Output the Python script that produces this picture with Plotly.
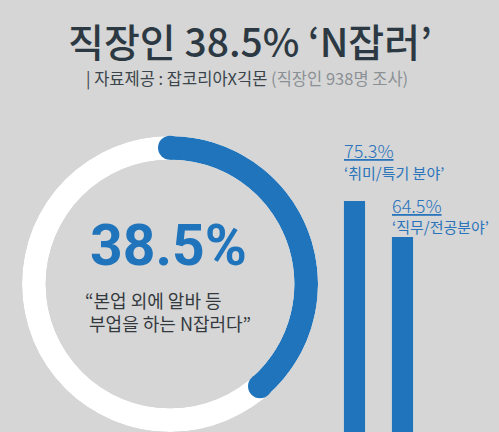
import plotly.graph_objects as go

# ---- data ----
share_label = "38.5%"
share_value = 38.5
bar_categories = ["취미/특기 분야", "직무/전공분야"]
bar_values = [75.3, 64.5]
bar_value_labels = ["75.3%", "64.5%"]

BLUE = "#1f74bb"
BG = "#d6d6d6"
FONT = "Noto Sans CJK KR"
W, H = 499, 432

fig = go.Figure()

# donut (polar subplot): white track + blue arc + round caps
share_deg = share_value / 100 * 360
fig.add_trace(go.Barpolar(
    r=[1], theta=[180], width=[360], base=0,
    marker=dict(color="#ffffff", line=dict(width=0)),
    hoverinfo="skip", showlegend=False, subplot="polar",
))
fig.add_trace(go.Barpolar(
    r=[1], theta=[share_deg / 2], width=[share_deg], base=0,
    marker=dict(color=BLUE, line=dict(width=0)),
    hoverinfo="skip", showlegend=False, subplot="polar",
))
fig.add_trace(go.Scatterpolar(
    r=[0.5, 0.5], theta=[0, share_deg], mode="markers",
    marker=dict(size=24, color=BLUE, line=dict(width=0)),
    hoverinfo="skip", showlegend=False, subplot="polar",
))

# bars
fig.add_trace(go.Bar(
    x=bar_categories, y=bar_values,
    marker=dict(color=BLUE, line=dict(width=0)),
    width=0.44, hoverinfo="skip", showlegend=False,
))

fig.update_layout(
    width=W, height=H,
    margin=dict(l=0, r=0, t=0, b=0),
    paper_bgcolor=BG, plot_bgcolor="rgba(0,0,0,0)",
    xaxis=dict(domain=[330.5 / W, 426.5 / W], range=[-0.5, 1.5],
               visible=False, fixedrange=True),
    yaxis=dict(domain=[0, 1], range=[6.0, 135.6], visible=False, fixedrange=True),
    polar=dict(
        domain=dict(x=[22 / W, 318 / W], y=[0.0, 296 / H]),
        hole=0.84, bgcolor="rgba(0,0,0,0)", bargap=0,
        radialaxis=dict(range=[0, 1], visible=False, showgrid=False),
        angularaxis=dict(rotation=90, direction="clockwise", visible=False,
                         showgrid=False, showline=False, ticks=""),
    ),
    font=dict(family=FONT),
)

ann = []
# title
ann.append(dict(text="직장인 38.5% ‘N잡러’", x=0.5, y=1 - 40 / H, xref="paper", yref="paper",
                xanchor="center", yanchor="middle", showarrow=False,
                font=dict(family=FONT, size=39, color="#2c3943", weight=500)))
ann.append(dict(text="<span style='color:#3b444a'>| 자료제공 : 잡코리아X긱몬</span> "
                     "<span style='color:#8b9095'>(직장인 938명 조사)</span>",
                x=246.5 / W, y=1 - 78 / H, xref="paper", yref="paper",
                xanchor="center", yanchor="middle", showarrow=False,
                font=dict(family=FONT, size=16.5)))
# center text
ann.append(dict(text=share_label, x=168 / W, y=1 - 245 / H, xref="paper", yref="paper",
                xanchor="center", yanchor="middle", showarrow=False,
                font=dict(family="Roboto", size=57, color=BLUE, weight=700)))
ann.append(dict(text="“본업 외에 알바 등<br>\u00a0부업을 하는 N잡러다”",
                x=83 / W, y=1 - 311 / H, xref="paper", yref="paper",
                xanchor="left", yanchor="middle", align="left", showarrow=False,
                font=dict(family=FONT, size=18, color="#34393e")))

# bar labels
pct_y = [150, 205]
cat_y = [172, 226]
left_x = [342, 390]
for i in range(len(bar_values)):
    ann.append(dict(text="<u>" + bar_value_labels[i] + "</u>", x=left_x[i] / W, y=1 - pct_y[i] / H,
                    xref="paper", yref="paper", xanchor="left", yanchor="middle",
                    showarrow=False,
                    font=dict(family=FONT, size=18, color="#2a74bb", weight=300)))
    ann.append(dict(text="‘" + bar_categories[i] + "’", x=left_x[i] / W, y=1 - cat_y[i] / H,
                    xref="paper", yref="paper", xanchor="left", yanchor="middle",
                    showarrow=False,
                    font=dict(family=FONT, size=15, color="#2a74bb", weight=400)))

fig.update_layout(annotations=ann)
fig.write_html("out.html", config=dict(staticPlot=True),
               post_script="document.body.style.margin='0px';document.body.style.overflow='hidden';")
